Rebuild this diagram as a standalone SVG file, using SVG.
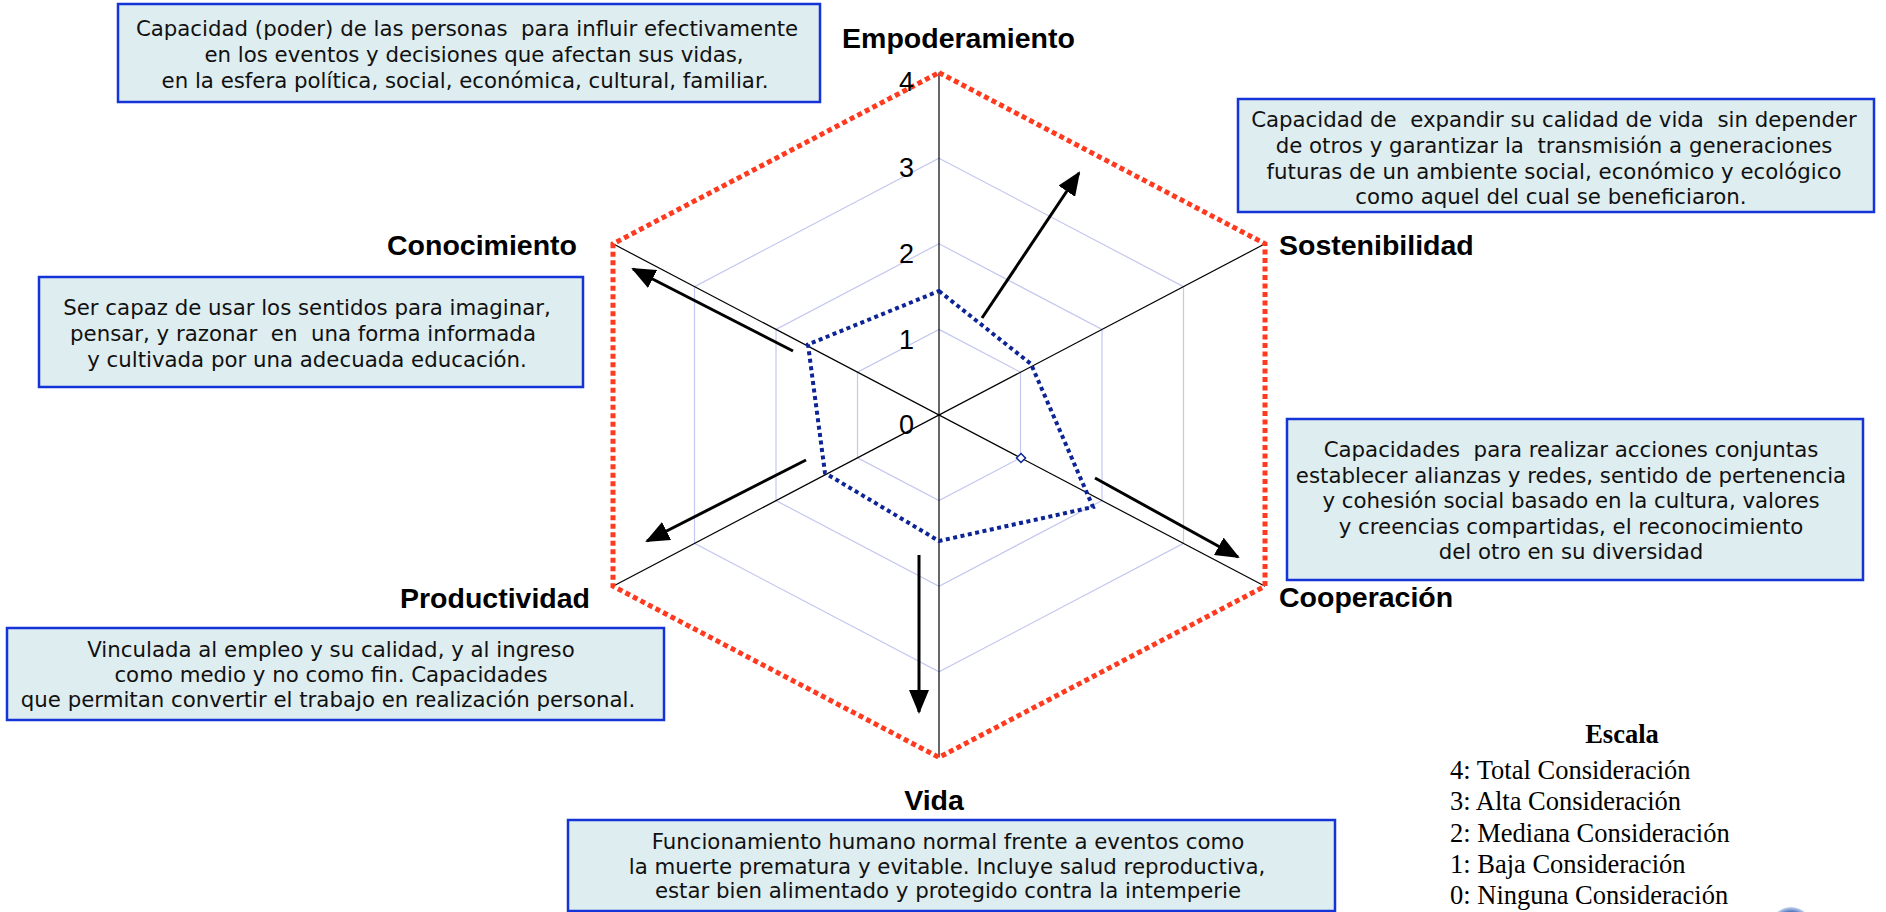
<svg xmlns="http://www.w3.org/2000/svg" width="1886" height="912" viewBox="0 0 1886 912">
<style>
.box{fill:#deedf0;stroke:#1434d8;stroke-width:2.5}
.desc{font-family:"DejaVu Sans",Verdana,sans-serif;font-size:21.3px;fill:#111;text-anchor:middle}
.axl{font-family:"Liberation Sans",Arial,sans-serif;font-size:28.5px;font-weight:bold;fill:#000}
.num{font-family:"Liberation Sans",Arial,sans-serif;font-size:27px;fill:#000;text-anchor:end}
.leg{font-family:"Liberation Serif","Times New Roman",serif;font-size:26.5px;fill:#000}
.ring{fill:none;stroke:#c3c8ee;stroke-width:1.2}
.axis{stroke:#000;stroke-width:1.2}
.arr{stroke:#000;stroke-width:3;fill:none;marker-end:url(#ah)}
</style>
<defs>
<marker id="ah" markerWidth="24" markerHeight="20" refX="22" refY="10" orient="auto" markerUnits="userSpaceOnUse">
<path d="M0,0 L24,10 L0,20 z" fill="#000"/>
</marker>
<radialGradient id="logo" cx="0.5" cy="0.5" r="0.5">
<stop offset="0" stop-color="#4a7ad0"/>
<stop offset="0.7" stop-color="#1c4aa8"/>
<stop offset="1" stop-color="#c8d8f0"/>
</radialGradient>
</defs>
<rect width="1886" height="912" fill="#fff"/>

<g id="chart">
<polygon class="ring" points="939,329.4 1020.5,372.2 1020.5,457.8 939,500.6 857.5,457.8 857.5,372.2"/>
<polygon class="ring" points="939,243.8 1102,329.4 1102,500.6 939,586.2 776,500.6 776,329.4"/>
<polygon class="ring" points="939,158.2 1183.5,286.6 1183.5,543.4 939,671.8 694.5,543.4 694.5,286.6"/>
<line class="axis" x1="939" y1="72.6" x2="939" y2="757.4"/>
<line class="axis" x1="613" y1="243.8" x2="1265" y2="586.2"/>
<line class="axis" x1="1265" y1="243.8" x2="613" y2="586.2"/>
<polygon points="939,72.6 1265,243.8 1265,586.2 939,757.4 613,586.2 613,243.8" fill="none" stroke="#ff3a1f" stroke-width="5" stroke-dasharray="5 3.5"/>
<polygon points="939,291 1031,364 1093,507 939,541 825,473 808,344.5" fill="none" stroke="#0d2496" stroke-width="4" stroke-dasharray="4 3.5"/>
<polygon points="1021,453.5 1025.5,458 1021,462.5 1016.5,458" fill="#fff" stroke="#0d2496" stroke-width="1.5"/>
<text class="num" x="914" y="91">4</text>
<text class="num" x="914" y="177">3</text>
<text class="num" x="914" y="263">2</text>
<text class="num" x="914" y="348.5">1</text>
<text class="num" x="914" y="434">0</text>
</g>

<g id="connectors">
<line class="arr" x1="982" y1="318" x2="1079" y2="173"/>
<line class="arr" x1="793" y1="351" x2="633" y2="269"/>
<line class="arr" x1="806" y1="460" x2="647" y2="541"/>
<line class="arr" x1="1095" y1="478" x2="1238" y2="557"/>
<line class="arr" x1="919" y1="555" x2="919" y2="712"/>
</g>

<g id="empoderamiento">
<text class="axl" x="958.5" y="48" text-anchor="middle">Empoderamiento</text>
<rect class="box" x="118" y="4" width="702" height="98"/>
<text class="desc" xml:space="preserve"><tspan x="467" y="36">Capacidad (poder) de las personas  para influir efectivamente</tspan><tspan x="474" y="62">en los eventos y decisiones que afectan sus vidas,</tspan><tspan x="465" y="88">en la esfera política, social, económica, cultural, familiar.</tspan></text>
</g>

<g id="sostenibilidad">
<text class="axl" x="1279" y="255">Sostenibilidad</text>
<rect class="box" x="1238" y="99" width="636" height="113"/>
<text class="desc" xml:space="preserve"><tspan x="1554" y="127">Capacidad de  expandir su calidad de vida  sin depender</tspan><tspan x="1554" y="153">de otros y garantizar la  transmisión a generaciones</tspan><tspan x="1554" y="179">futuras de un ambiente social, económico y ecológico</tspan><tspan x="1551" y="204">como aquel del cual se beneficiaron.</tspan></text>
</g>

<g id="conocimiento">
<text class="axl" x="577" y="255" text-anchor="end">Conocimiento</text>
<rect class="box" x="39" y="277" width="544" height="110"/>
<text class="desc" xml:space="preserve"><tspan x="307" y="315">Ser capaz de usar los sentidos para imaginar,</tspan><tspan x="303" y="341">pensar, y razonar  en  una forma informada</tspan><tspan x="307" y="367">y cultivada por una adecuada educación.</tspan></text>
</g>

<g id="cooperacion">
<text class="axl" x="1279" y="607">Cooperación</text>
<rect class="box" x="1287" y="419" width="576" height="161"/>
<text class="desc" xml:space="preserve"><tspan x="1571" y="457">Capacidades  para realizar acciones conjuntas</tspan><tspan x="1571" y="482.5">establecer alianzas y redes, sentido de pertenencia</tspan><tspan x="1571" y="508">y cohesión social basado en la cultura, valores</tspan><tspan x="1571" y="533.5">y creencias compartidas, el reconocimiento</tspan><tspan x="1571" y="559">del otro en su diversidad</tspan></text>
</g>

<g id="productividad">
<text class="axl" x="590" y="608" text-anchor="end">Productividad</text>
<rect class="box" x="7" y="628" width="657" height="92"/>
<text class="desc" xml:space="preserve"><tspan x="331" y="657">Vinculada al empleo y su calidad, y al ingreso</tspan><tspan x="331" y="682">como medio y no como fin. Capacidades</tspan><tspan x="328" y="707">que permitan convertir el trabajo en realización personal.</tspan></text>
</g>

<g id="vida">
<text class="axl" x="934" y="810" text-anchor="middle">Vida</text>
<rect class="box" x="568" y="820" width="767" height="91"/>
<text class="desc" xml:space="preserve"><tspan x="948" y="849">Funcionamiento humano normal frente a eventos como</tspan><tspan x="947" y="873.5">la muerte prematura y evitable. Incluye salud reproductiva,</tspan><tspan x="948" y="898">estar bien alimentado y protegido contra la intemperie</tspan></text>
</g>

<g id="escala">
<text class="leg" x="1622" y="743" text-anchor="middle" font-weight="bold" font-size="25">Escala</text>
<text class="leg" x="1450" y="779">4: Total Consideración</text>
<text class="leg" x="1450" y="810">3: Alta Consideración</text>
<text class="leg" x="1450" y="842">2: Mediana Consideración</text>
<text class="leg" x="1450" y="873">1: Baja Consideración</text>
<text class="leg" x="1450" y="904">0: Ninguna Consideración</text>
</g>

<ellipse cx="1791" cy="930" rx="22" ry="23" fill="url(#logo)"/>
</svg>
